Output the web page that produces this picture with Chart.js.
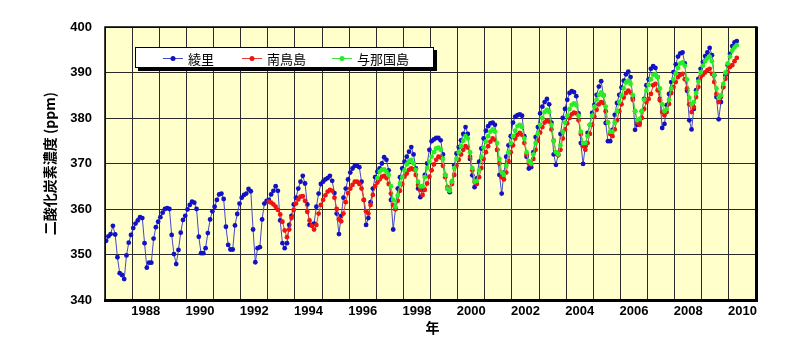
<!DOCTYPE html>
<html lang="ja">
<head>
<meta charset="utf-8">
<title>二酸化炭素濃度の経年変化</title>
<script src="https://cdn.jsdelivr.net/npm/chart.js@4.4.1/dist/chart.umd.min.js"></script>
<style>
  html, body { margin: 0; padding: 0; background: #fff; }
  #wrap { width: 787px; height: 349px; }
</style>
</head>
<body>
<div id="wrap"><canvas id="co2C" width="787" height="349"></canvas></div>
<script>
// 月平均値 (ppm)。各配列は開始年の1月から1か月ずつ
const stations   = ['綾里', '南鳥島', '与那国島'];
const startYears = [1987, 1993, 1997];

const ryori = [
  353.0, 354.0, 354.5, 356.3, 354.4, 349.4, 345.9, 345.5, 344.6, 349.8, 352.6, 354.3, // 1987
  355.8, 356.8, 357.5, 358.2, 358.0, 352.5, 347.1, 348.2, 348.2, 353.5, 356.0, 357.2, // 1988
  358.2, 359.2, 360.0, 360.2, 360.0, 354.3, 350.1, 347.9, 351.0, 354.8, 357.6, 358.5, // 1989
  359.9, 360.9, 361.6, 361.4, 360.0, 353.9, 350.3, 350.3, 351.4, 354.7, 357.7, 359.5, // 1990
  360.5, 362.0, 363.2, 363.4, 362.2, 356.1, 352.1, 351.1, 351.1, 356.4, 358.9, 361.2, // 1991
  362.5, 363.1, 363.4, 364.4, 363.9, 355.5, 348.3, 351.4, 351.6, 357.7, 361.2, 361.8, // 1992
  362.0, 363.2, 364.0, 365.0, 364.0, 357.5, 352.5, 351.4, 352.5, 356.5, 358.5, 361.0, // 1993
  362.5, 364.5, 366.0, 367.3, 365.6, 361.0, 356.5, 356.5, 356.8, 360.5, 363.4, 365.5, // 1994
  366.0, 366.5, 366.8, 367.3, 366.2, 363.5, 359.0, 354.5, 358.5, 362.5, 364.5, 366.5, // 1995
  368.0, 368.9, 369.5, 369.5, 369.2, 366.0, 362.0, 356.5, 358.0, 361.5, 364.5, 367.0, // 1996
  368.2, 368.9, 370.0, 371.4, 370.8, 368.5, 362.0, 355.5, 360.0, 364.5, 367.0, 368.9, // 1997
  370.4, 371.5, 372.6, 373.6, 372.0, 368.9, 364.5, 362.6, 364.3, 367.5, 370.0, 373.0, // 1998
  374.9, 375.3, 375.6, 375.6, 375.1, 372.0, 367.5, 364.5, 363.7, 366.0, 369.6, 372.2, // 1999
  373.6, 375.1, 376.5, 378.0, 376.5, 371.0, 367.4, 364.8, 366.7, 370.4, 373.3, 375.5, // 2000
  377.2, 378.2, 378.8, 379.0, 378.5, 373.0, 367.5, 363.4, 368.0, 371.5, 374.0, 376.0, // 2001
  379.0, 380.3, 380.6, 380.8, 380.5, 376.0, 371.5, 368.9, 369.2, 372.5, 375.8, 378.0, // 2002
  381.0, 382.5, 383.5, 384.2, 383.0, 379.0, 372.0, 369.7, 372.0, 376.5, 380.0, 382.0, // 2003
  384.0, 385.5, 385.9, 385.7, 384.8, 381.0, 374.5, 369.9, 373.8, 376.7, 378.5, 381.1, // 2004
  382.9, 385.1, 386.9, 388.1, 385.0, 378.9, 374.9, 374.9, 377.4, 380.7, 383.3, 385.1, // 2005
  386.7, 388.2, 389.6, 390.2, 389.0, 384.4, 377.4, 378.5, 378.9, 381.5, 384.2, 387.2, // 2006
  388.5, 390.8, 391.4, 391.0, 389.0, 384.2, 377.8, 378.7, 382.8, 385.3, 387.9, 390.1, // 2007
  391.8, 393.5, 394.2, 394.4, 392.0, 386.0, 379.5, 377.5, 382.0, 386.1, 388.6, 390.8, // 2008
  392.3, 393.6, 394.4, 395.4, 393.8, 389.4, 384.6, 379.7, 383.5, 386.8, 389.4, 391.6, // 2009
  394.1, 395.8, 396.6, 396.9                                                          // 2010
];

const minamitorishima = [
  361.6, 361.4, 361.0, 360.5, 359.8, 358.8, 357.2, 355.3, 353.8, 355.5, 358.0, 359.8, // 1993
  361.2, 362.1, 362.7, 362.8, 361.8, 359.4, 357.5, 356.3, 355.5, 356.5, 359.0, 360.9, // 1994
  362.0, 363.0, 363.8, 364.2, 364.0, 362.5, 360.0, 357.7, 357.3, 359.0, 361.5, 363.5, // 1995
  364.5, 365.3, 366.0, 366.0, 365.5, 364.5, 362.0, 359.5, 359.0, 360.9, 363.1, 365.0, // 1996
  365.8, 366.5, 367.1, 367.3, 366.8, 365.5, 363.4, 360.8, 360.0, 361.8, 364.0, 365.5, // 1997
  367.1, 367.8, 368.6, 368.9, 368.7, 367.5, 365.3, 364.2, 363.1, 364.2, 365.6, 367.1, // 1998
  368.5, 369.8, 370.8, 371.5, 371.3, 369.5, 367.0, 364.8, 364.2, 365.5, 367.5, 369.5, // 1999
  370.8, 372.0, 373.0, 373.8, 373.5, 371.5, 368.5, 366.0, 365.5, 367.0, 369.0, 371.0, // 2000
  372.5, 373.8, 374.8, 375.5, 375.2, 373.0, 370.0, 367.0, 366.5, 368.0, 370.5, 372.5, // 2001
  374.0, 375.5, 376.3, 376.7, 376.3, 374.5, 372.0, 370.0, 369.8, 371.0, 373.0, 375.0, // 2002
  376.8, 378.0, 379.0, 379.5, 379.2, 377.5, 375.0, 372.5, 371.8, 373.0, 375.5, 377.5, // 2003
  378.8, 380.0, 380.8, 381.2, 381.0, 379.5, 376.5, 373.8, 373.0, 374.5, 376.5, 378.5, // 2004
  380.3, 381.8, 383.0, 383.5, 383.3, 381.5, 379.0, 376.5, 376.0, 377.5, 379.5, 381.5, // 2005
  383.0, 384.5, 385.5, 386.0, 385.6, 384.0, 381.5, 379.0, 378.5, 380.0, 382.0, 383.5, // 2006
  384.2, 385.3, 387.2, 387.5, 386.1, 383.9, 381.3, 380.6, 381.3, 383.1, 385.5, 386.8, // 2007
  387.9, 389.0, 389.5, 389.7, 388.5, 386.5, 383.0, 381.3, 382.4, 384.6, 386.8, 389.0, // 2008
  389.5, 390.0, 390.5, 390.8, 389.7, 387.9, 385.3, 383.5, 384.6, 386.8, 388.6, 390.1, // 2009
  391.2, 391.6, 392.5, 393.2                                                          // 2010
];

const yonaguni = [
  366.8, 368.2, 368.6, 368.7, 368.2, 367.5, 365.0, 362.0, 360.5, 363.0, 365.5, 367.0, // 1997
  368.5, 369.8, 370.5, 370.8, 370.0, 368.6, 366.0, 365.0, 365.0, 367.0, 369.0, 370.4, // 1998
  371.5, 372.5, 373.3, 373.5, 373.0, 371.0, 367.5, 364.5, 364.0, 366.0, 369.0, 371.0, // 1999
  372.5, 373.8, 375.0, 376.0, 375.5, 372.5, 369.0, 366.0, 366.2, 368.5, 371.5, 373.5, // 2000
  374.8, 376.0, 377.0, 377.5, 377.0, 374.5, 371.0, 368.0, 367.5, 369.5, 372.5, 374.5, // 2001
  376.0, 377.2, 378.2, 378.5, 378.0, 375.5, 372.5, 370.5, 370.0, 372.0, 374.5, 376.5, // 2002
  378.5, 380.0, 381.3, 381.8, 381.3, 378.5, 375.0, 372.5, 372.0, 374.0, 377.0, 379.0, // 2003
  380.5, 382.0, 382.9, 383.2, 382.8, 380.5, 377.0, 374.5, 374.5, 376.0, 378.5, 380.5, // 2004
  382.5, 384.0, 385.1, 385.6, 385.0, 382.5, 379.0, 377.0, 377.0, 379.0, 381.5, 383.5, // 2005
  385.0, 386.5, 387.8, 388.2, 387.5, 385.0, 381.5, 379.5, 379.8, 381.5, 384.0, 386.0, // 2006
  387.3, 388.5, 389.5, 389.6, 389.0, 386.5, 383.0, 381.5, 382.0, 384.0, 386.5, 388.5, // 2007
  389.8, 391.0, 392.0, 392.2, 391.5, 388.5, 384.5, 383.0, 383.5, 385.5, 388.0, 390.0, // 2008
  391.5, 392.5, 393.1, 393.5, 392.5, 389.5, 386.5, 384.5, 385.0, 387.5, 390.0, 392.0, // 2009
  393.5, 394.8, 395.5, 396.0                                                          // 2010
];

const xLabelYears = [1988, 1990, 1992, 1994, 1996, 1998, 2000, 2002, 2004, 2006, 2008, 2010];
const yTitle = '二酸化炭素濃度 (ppm)';
const xTitle = '年';

const lineColors   = ['#4646C8', '#E23A3A', '#3EE03E'];
const markerColors = ['#1212C4', '#EE1414', '#26EE26'];

// 各月の値は月の中央に置く
function toPoints(values, startYear) {
  return values.map((v, i) => ({ x: startYear + (i + 0.5) / 12, y: v }));
}

const series = [ryori, minamitorishima, yonaguni];

/**
 * 背景・枠・軸タイトル・凡例
 */
const framePlugin = {
  id: 'frame',
  beforeDraw(chart) {
    const { ctx, chartArea: a } = chart;
    ctx.save();
    ctx.fillStyle = '#fff';
    ctx.fillRect(0, 0, chart.width, chart.height);
    ctx.fillStyle = '#FFFFCC';
    ctx.fillRect(a.left, a.top, a.right - a.left, a.bottom - a.top);
    ctx.restore();
  },
  afterDraw(chart) {
    const { ctx, chartArea: a } = chart;
    ctx.save();
    // 枠
    ctx.strokeStyle = '#000';
    ctx.lineWidth = 1.5;
    ctx.strokeRect(a.left, a.top, a.right - a.left, a.bottom - a.top);
    ctx.lineWidth = 3;
    ctx.beginPath();
    ctx.moveTo(a.left - 1, a.bottom + 0.5);
    ctx.lineTo(a.right + 2, a.bottom + 0.5);
    ctx.moveTo(a.right + 0.5, a.top - 0.5);
    ctx.lineTo(a.right + 0.5, a.bottom + 2);
    ctx.stroke();

    // 軸タイトル
    ctx.fillStyle = '#000';
    ctx.font = 'bold 14px "Noto Sans CJK JP"';
    ctx.textAlign = 'center';
    ctx.textBaseline = 'middle';
    ctx.fillText(xTitle, (a.left + a.right) / 2 + 2, 328);
    ctx.save();
    ctx.translate(50, (a.top + a.bottom) / 2);
    ctx.rotate(-Math.PI / 2);
    ctx.fillText(yTitle, 0, 0);
    ctx.restore();

    // 凡例
    const box = { x: 135, y: 47, w: 299, h: 21 };
    ctx.fillStyle = '#000';
    ctx.fillRect(box.x + 3, box.y + 3, box.w, box.h);
    ctx.fillStyle = '#fff';
    ctx.fillRect(box.x, box.y, box.w, box.h);
    ctx.lineWidth = 1;
    ctx.strokeStyle = '#000';
    ctx.strokeRect(box.x + 0.5, box.y + 0.5, box.w - 1, box.h - 1);
    const itemX = [163, 242, 332];
    const cy = box.y + 11;
    ctx.font = '13px "Noto Sans CJK JP"';
    ctx.textAlign = 'left';
    stations.forEach((name, i) => {
      const x0 = itemX[i];
      ctx.strokeStyle = lineColors[i];
      ctx.lineWidth = 1;
      ctx.beginPath();
      ctx.moveTo(x0, cy + 0.5);
      ctx.lineTo(x0 + 20, cy + 0.5);
      ctx.stroke();
      ctx.fillStyle = markerColors[i];
      ctx.beginPath();
      ctx.arc(x0 + 10, cy + 0.5, 2.5, 0, Math.PI * 2);
      ctx.fill();
      ctx.fillStyle = '#000';
      ctx.fillText(name, x0 + 25, cy + 1);
    });
    ctx.restore();
  }
};

new Chart(document.getElementById('co2C'), {
  type: 'line',
  data: {
    datasets: series.map((vals, i) => ({
      label: stations[i],
      data: toPoints(vals, startYears[i]),
      borderColor: lineColors[i],
      borderWidth: 1,
      pointRadius: 2.4,
      pointBorderWidth: 0,
      pointBackgroundColor: markerColors[i],
      tension: 0,
      fill: false,
      order: 3 - i,
    })),
  },
  options: {
    responsive: false,
    animation: false,
    devicePixelRatio: 1,
    layout: { padding: { left: 0, top: 27, right: 31, bottom: 0 } },
    plugins: {
      legend: { display: false },
      tooltip: { enabled: false },
    },
    scales: {
      x: {
        type: 'linear',
        min: 1987,
        max: 2011,
        afterFit: s => { s.height = 49; },
        ticks: {
          stepSize: 1,
          autoSkip: false,
          maxRotation: 0,
          minRotation: 0,
          padding: 4,
          labelOffset: 13.56,
          color: '#000',
          font: { family: '"Liberation Sans", Arial', size: 13, weight: 'bold' },
          callback: v => xLabelYears.includes(v) ? String(v) : '',
        },
        grid: { color: '#2a2a2a', lineWidth: 1, drawTicks: false },
        border: { display: false },
      },
      y: {
        min: 340,
        max: 400,
        afterFit: s => { s.width = 105; },
        ticks: {
          stepSize: 10,
          padding: 13,
          color: '#000',
          font: { family: '"Liberation Sans", Arial', size: 13, weight: 'bold' },
        },
        grid: { color: '#2a2a2a', lineWidth: 1, drawTicks: false },
        border: { display: false },
      },
    },
  },
  plugins: [framePlugin],
});
</script>
</body>
</html>
